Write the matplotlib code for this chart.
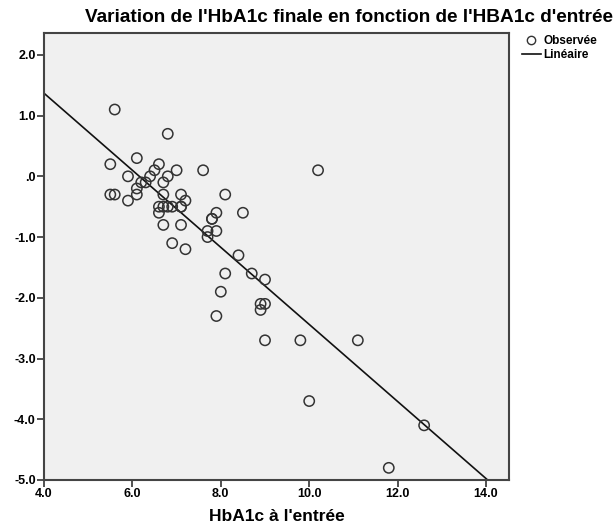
import numpy as np
import matplotlib.pyplot as plt
from matplotlib.lines import Line2D

# HbA1c à l'entrée (x) et variation de l'HbA1c (y)
hba1c_entree = [5.6, 6.8, 5.5, 6.1, 6.6, 6.5, 7.0, 7.6, 10.2, 5.9, 6.4, 6.8, 6.2, 6.3,
                6.7, 6.1, 5.5, 5.6, 6.1, 6.7, 7.1, 8.1, 5.9, 7.2, 6.6, 6.7, 6.8, 6.9,
                7.1, 7.1, 6.6, 7.9, 8.5, 7.8, 7.8, 6.7, 7.1, 7.7, 7.9, 7.7, 6.9, 7.2,
                8.4, 8.1, 8.7, 9.0, 8.0, 8.9, 9.0, 8.9, 7.9, 9.0, 9.8, 11.1, 10.0,
                12.6, 11.8]
variation = [1.1, 0.7, 0.2, 0.3, 0.2, 0.1, 0.1, 0.1, 0.1, 0.0, 0.0, 0.0, -0.1, -0.1,
             -0.1, -0.2, -0.3, -0.3, -0.3, -0.3, -0.3, -0.3, -0.4, -0.4, -0.5, -0.5,
             -0.5, -0.5, -0.5, -0.5, -0.6, -0.6, -0.6, -0.7, -0.7, -0.8, -0.8, -0.9,
             -0.9, -1.0, -1.1, -1.2, -1.3, -1.6, -1.6, -1.7, -1.9, -2.1, -2.1, -2.2,
             -2.3, -2.7, -2.7, -2.7, -3.7, -4.1, -4.8]

x_ticks = [4.0, 6.0, 8.0, 10.0, 12.0, 14.0]
y_ticks = [2.0, 1.0, 0.0, -1.0, -2.0, -3.0, -4.0, -5.0]

plt.rcParams['font.family'] = ['Liberation Sans', 'DejaVu Sans']

fig = plt.figure(figsize=(6.16, 5.25), dpi=100)
ax = fig.add_axes([44 / 616, 1 - 480 / 525, (509 - 44) / 616, (480 - 33) / 525])
ax.set_facecolor('#f0f0f0')

x = np.array(hba1c_entree)
y = np.array(variation)

# droite de régression linéaire
pente, origine = np.polyfit(x, y, 1)
xs = np.array([4.0, 14.5])
ax.plot(xs, origine + pente * xs, color='#111111', lw=1.2, zorder=2)

ax.scatter(x, y, s=55, facecolors='none', edgecolors='#333333', linewidths=1.1, zorder=3)

ax.set_xlim(4.0, 14.52)
ax.set_ylim(-5.0, 2.36)
ax.set_xticks(x_ticks)
ax.set_yticks(y_ticks)
ax.set_xticklabels([f'{v:.1f}' for v in x_ticks], fontweight='bold', fontsize=9)
ax.set_yticklabels([('.0' if v == 0 else f'{v:.1f}') for v in y_ticks], fontweight='bold', fontsize=9)
ax.tick_params(direction='out', length=5, width=1.2, color='#333333', pad=1)

for s in ax.spines.values():
    s.set_color('#444444')
    s.set_linewidth(1.5)

ax.set_xlabel("HbA1c à l'entrée", fontweight='bold', fontsize=12.5, labelpad=6)

fig.text(349 / 616, 1 - 18 / 525, "Variation de l'HbA1c finale en fonction de l'HBA1c d'entrée",
         ha='center', va='center', fontweight='bold', fontsize=13.7)

handles = [Line2D([], [], marker='o', ls='none', mfc='none', mec='#333333', ms=6, mew=1),
           Line2D([], [], color='#111111', lw=1.2)]
fig.legend(handles, ['Observée', 'Linéaire'], loc='upper left',
           bbox_to_anchor=(522 / 616, 1 - 35 / 525), frameon=False,
           prop={'weight': 'bold', 'size': 8.5}, handlelength=1.6, handletextpad=0.2,
           labelspacing=0.2, borderpad=0, borderaxespad=0)

fig.savefig('out.png', dpi=100)
